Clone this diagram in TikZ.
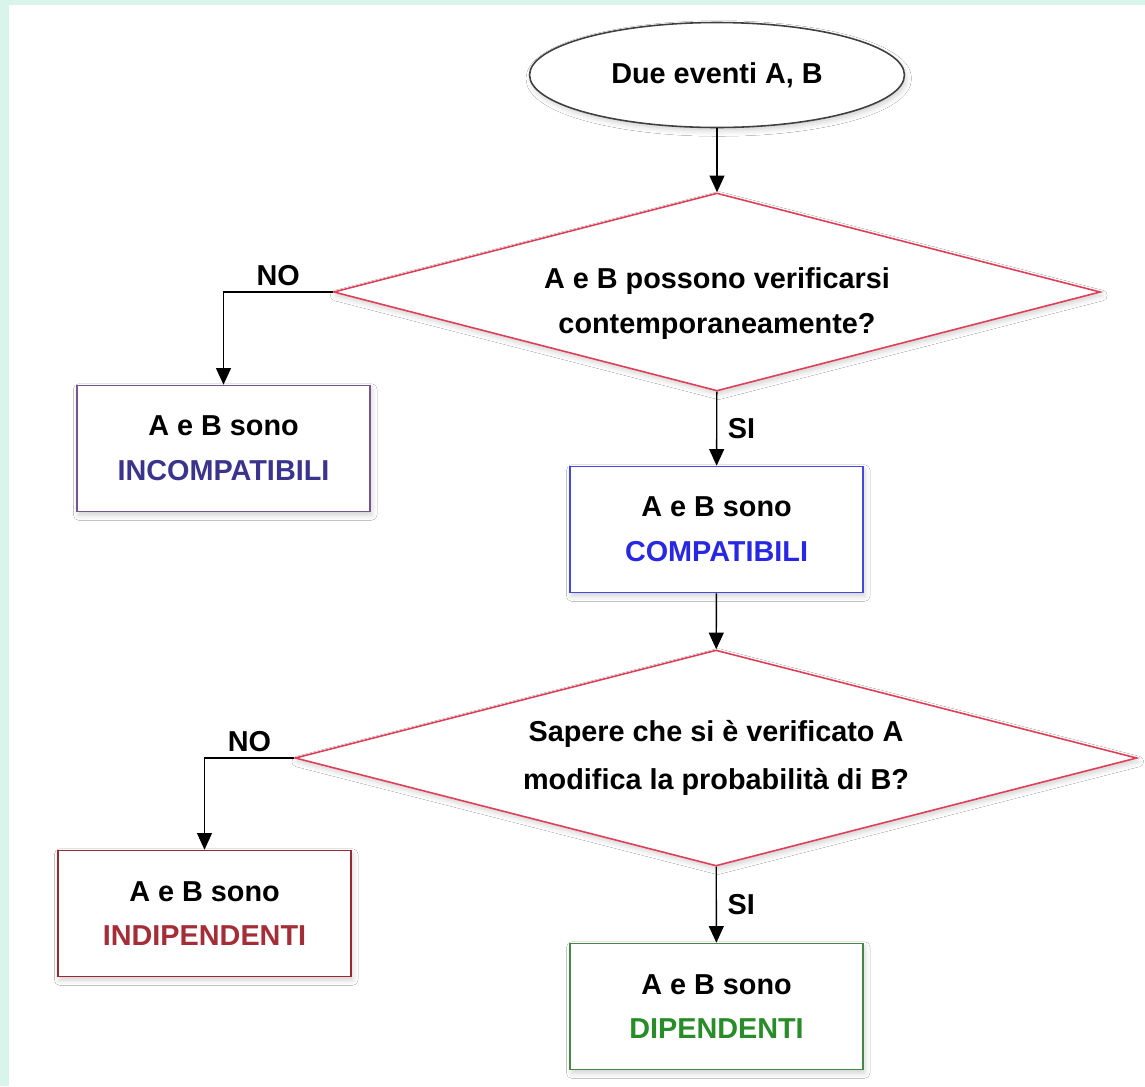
\documentclass[tikz,border=0pt]{standalone}
\usepackage{fontspec}
\setmainfont{Liberation Sans}
\usetikzlibrary{shapes.geometric,arrows.meta,shadows.blur}
\definecolor{mint}{RGB}{217,244,235}
\definecolor{rombo}{RGB}{224,62,88}
\definecolor{viola}{RGB}{118,84,142}
\definecolor{violascuro}{RGB}{58,52,140}
\definecolor{blu}{RGB}{70,70,225}
\definecolor{bluscuro}{RGB}{40,40,228}
\definecolor{rosso}{RGB}{150,42,52}
\definecolor{rossoscuro}{RGB}{165,45,55}
\definecolor{verde}{RGB}{70,135,70}
\definecolor{verdescuro}{RGB}{40,140,40}
\begin{document}
\begin{tikzpicture}
      [
      x=0.02cm, y=-0.02cm,
      font=\fontsize{16.4}{25.5}\selectfont\bfseries,
      soft/.style={blur shadow={shadow xshift=1pt,shadow yshift=-2pt,shadow opacity=18,shadow blur radius=3pt}},
      terminal/.style={ellipse,draw=black!75,line width=0.9pt,fill=white,soft,minimum width=7.5cm,minimum height=2.1cm},
      decision/.style={diamond,draw=rombo,line width=0.9pt,fill=white,soft,align=center,inner sep=0pt,aspect=3.9},
      result/.style={rectangle,draw=#1,line width=0.9pt,fill=white,soft,align=center,minimum width=5.86cm,minimum height=2.52cm},
      answer/.style={inner sep=3pt},
      flow/.style={-{Triangle[length=9.5pt,width=8.5pt]},line width=0.8pt}
      ]
      \useasboundingbox (0,0) rectangle (1145,1086);
      \fill [white] (0,0) rectangle (1145,1086);
      \fill [mint] (0,0) rectangle (1145,5);
      \fill [mint] (0,0) rectangle (9,1086);
      \node (start) at (717,75) [terminal] {Due eventi A, B};
      \node (q1) at (717,292) [decision,minimum width=15.34cm,minimum height=3.96cm] {\rule{0pt}{25pt}A e B possono verificarsi\\contemporaneamente?};
      \node (incomp) at (223.5,448.5) [result=viola] {A e B sono\\\textcolor{violascuro}{INCOMPATIBILI}};
      \node (comp) at (716.5,529.5) [result=blu] {A e B sono\\\textcolor{bluscuro}{COMPATIBILI}};
      \node (q2) at (716,758) [decision,minimum width=16.84cm,minimum height=4.32cm] {Sapere che si è verificato A\\[2pt]modifica la probabilità di B?};
      \node (indip) at (204.5,913.5) [result=rosso] {A e B sono\\\textcolor{rossoscuro}{INDIPENDENTI}};
      \node (dip) at (716.5,1006.5) [result=verde] {A e B sono\\\textcolor{verdescuro}{DIPENDENTI}};
      \draw [flow] (start) to (q1);
      \draw [flow] (q1.west) -| node [answer,pos=0.25,above] {NO} (incomp.north);
      \draw [flow] (q1) to node [answer,right,xshift=3pt] {SI} (comp);
      \draw [flow] (comp) to (q2);
      \draw [flow] (q2.west) -| node [answer,pos=0.25,above] {NO} (indip.north);
      \draw [flow] (q2) to node [answer,right,xshift=3pt] {SI} (dip);
    \end{tikzpicture}
\end{document}
